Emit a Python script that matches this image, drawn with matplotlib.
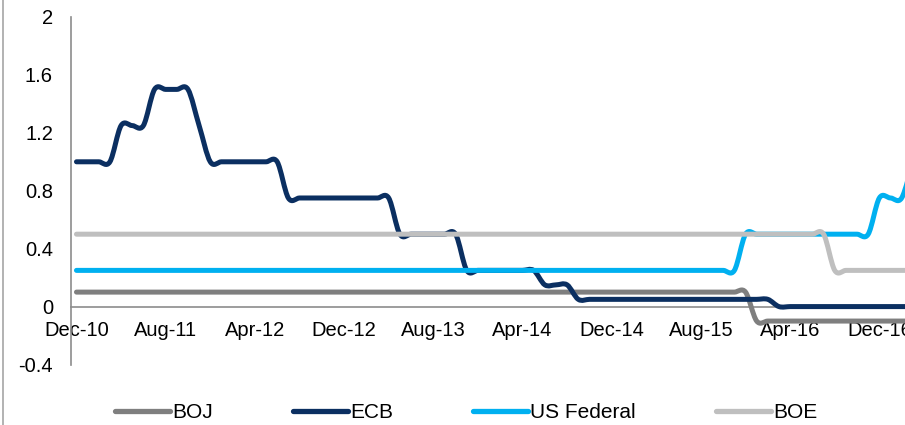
import numpy as np
import matplotlib
matplotlib.use("Agg")
import matplotlib.pyplot as plt
from matplotlib.lines import Line2D
from matplotlib.path import Path
from matplotlib.patches import PathPatch

plt.rcParams['font.family'] = ['Liberation Sans', 'DejaVu Sans']

# Monthly observations, Dec-10 (index 0) to Mar-17 (index 75)
boj = [0.1] * 61 + [-0.1] * 15
ecb = ([1.0] * 4 + [1.25] * 3 + [1.5] * 4 + [1.25] * 1 + [1.0] * 7 +
       [0.75] * 10 + [0.5] * 6 + [0.25] * 7 + [0.15] * 3 + [0.05] * 18 + [0.0] * 13)
us_fed = [0.25] * 60 + [0.5] * 12 + [0.75] * 3 + [1.0] * 1
boe = [0.5] * 68 + [0.25] * 8

series_names = ['BOJ', 'ECB', 'US Federal', 'BOE']
series_values = [boj, ecb, us_fed, boe]
series_colors = ['#7f7f7f', '#0b2f61', '#00b0f0', '#bfbfbf']

tick_labels = ['Dec-10', 'Aug-11', 'Apr-12', 'Dec-12', 'Aug-13', 'Apr-14',
               'Dec-14', 'Aug-15', 'Apr-16', 'Dec-16']
tick_step = 8
y_ticks = [-0.4, 0, 0.4, 0.8, 1.2, 1.6, 2]
y_tick_labels = ['-0.4', '0', '0.4', '0.8', '1.2', '1.6', '2']


def smooth_path(xs, ys):
    """Excel-style smoothed line: cubic Bezier segments through the points."""
    P = np.column_stack([xs, ys]).astype(float)
    n = len(P)
    verts = [P[0]]
    codes = [Path.MOVETO]
    for i in range(n - 1):
        p_prev = P[max(i - 1, 0)]
        p0 = P[i]
        p1 = P[i + 1]
        p_next = P[min(i + 2, n - 1)]
        c1 = p0 + (p1 - p_prev) / 6.0
        c2 = p1 - (p_next - p0) / 6.0
        verts += [c1, c2, p1]
        codes += [Path.CURVE4] * 3
    return Path(verts, codes)


W, H = 905, 425
fig = plt.figure(figsize=(W / 100, H / 100), dpi=100)
ax = fig.add_axes([71 / W, 1 - 364.5 / H, 1 - 71 / W, (364.5 - 17) / H])

x = np.arange(len(ecb))
handles = []
for name, vals, col in zip(series_names, series_values, series_colors):
    patch = PathPatch(smooth_path(x, vals), fill=False, edgecolor=col, lw=3.6,
                      capstyle='round', joinstyle='round', zorder=3)
    ax.add_patch(patch)
    handles.append(Line2D([], [], color=col, lw=3.8, solid_capstyle='round',
                          label=name))

ax.set_xlim(-0.49, 74.3)
ax.set_ylim(-0.4, 2.0)

for s in ['top', 'right']:
    ax.spines[s].set_visible(False)
ax.spines['bottom'].set_position(('data', 0))
ax.spines['bottom'].set_color('#8c8c8c')
ax.spines['bottom'].set_linewidth(1.2)
ax.spines['bottom'].set_zorder(2)
ax.spines['left'].set_color('#8c8c8c')
ax.spines['left'].set_linewidth(1.2)

ax.set_xticks(np.arange(0, len(tick_labels) * tick_step, tick_step))
ax.set_xticklabels(tick_labels, fontsize=14.5)
ax.set_yticks(y_ticks)
ax.set_yticklabels(y_tick_labels, fontsize=14.5)
ax.tick_params(axis='x', length=0, pad=10.5)
ax.tick_params(axis='y', length=0, pad=13)
for lab in ax.get_xticklabels():
    lab.set_clip_on(False)

fig.legend(handles=handles, loc='center', bbox_to_anchor=(466 / W, 1 - 413 / H),
           ncol=4, frameon=False, fontsize=15, handlelength=2.64,
           handletextpad=0.1, columnspacing=3.85, borderaxespad=0)

fig.add_artist(Line2D([2.5 / W, 2.5 / W], [0, 1], transform=fig.transFigure,
                      color='#a6a6a6', lw=1.2))

fig.savefig('out.png', dpi=100)
